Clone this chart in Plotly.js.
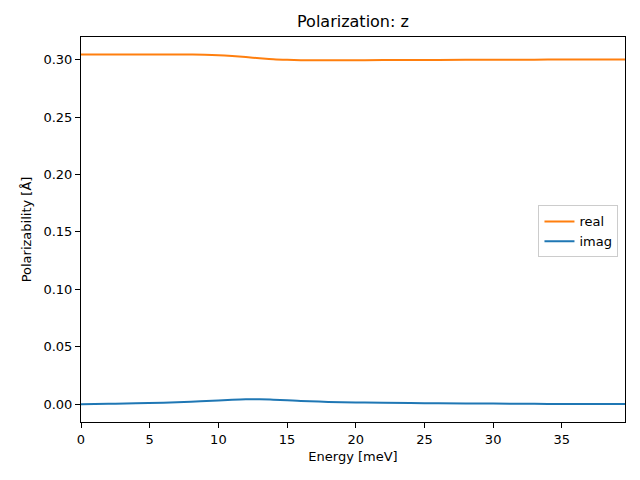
<!DOCTYPE html>
<html>
<head>
<meta charset="utf-8">
<script src="https://cdn.plot.ly/plotly-3.0.1.min.js"></script>
<style>html,body{margin:0;padding:0;background:#fff;}#chart{width:640px;height:480px;}</style>
</head>
<body>
<div id="chart"></div>
<script>
const energyReal = [0, 2, 4, 6, 7, 8, 9, 10, 11, 12, 13, 14, 15, 16, 17, 18, 20, 22, 25, 28, 30, 33, 36, 39.6];
const realValues = [0.3045, 0.3045, 0.3045, 0.3045, 0.3045, 0.3044, 0.3042, 0.3038, 0.3031, 0.3022, 0.3012, 0.3003, 0.2998, 0.2995, 0.2994, 0.2994, 0.2995, 0.2996, 0.2997, 0.2998, 0.2999, 0.3000, 0.3001, 0.3001];
const energyImag = [0, 2, 4, 6, 8, 10, 11, 12, 13, 14, 15, 16, 18, 20, 22, 25, 28, 30, 33, 36, 39.6];
const imagValues = [0.0000, 0.0004, 0.0008, 0.0013, 0.0021, 0.0033, 0.0039, 0.0043, 0.0043, 0.0039, 0.0034, 0.0028, 0.0020, 0.0015, 0.0012, 0.0009, 0.0007, 0.0005, 0.0003, 0.0002, 0.0001];

const font = "DejaVu Sans, sans-serif";
const traces = [
  {x: energyReal, y: realValues, name: "real", mode: "lines", line: {color: "#ff7f0e", width: 2, shape: "spline"}},
  {x: energyImag, y: imagValues, name: "imag", mode: "lines", line: {color: "#1f77b4", width: 2, shape: "spline"}}
];
const axisCommon = {
  showline: true, mirror: true, linecolor: "black", linewidth: 1,
  ticks: "outside", ticklen: 5, tickwidth: 1, tickcolor: "black",
  showgrid: false, zeroline: false,
  tickfont: {family: font, size: 13, color: "black"}
};
const layout = {
  width: 640, height: 480,
  margin: {l: 81, r: 15, t: 37, b: 58},
  paper_bgcolor: "white", plot_bgcolor: "white",
  font: {family: font, color: "black"},
  title: {text: "Polarization: z", font: {family: font, size: 16, color: "black"}, x: 0.5515, xanchor: "center", y: 0.955, yanchor: "middle"},
  xaxis: Object.assign({}, axisCommon, {range: [0, 39.6], dtick: 5, tick0: 0,
    title: {text: "Energy [meV]", font: {family: font, size: 13, color: "black"}, standoff: 6}}),
  yaxis: Object.assign({}, axisCommon, {range: [-0.0155, 0.3197], dtick: 0.05, tick0: 0, tickformat: ".2f",
    title: {text: "Polarizability [Å]", font: {family: font, size: 13, color: "black"}, standoff: 8}}),
  legend: {x: 0.988, xanchor: "right", y: 0.495, yanchor: "middle", bgcolor: "rgba(255,255,255,0.8)",
    bordercolor: "#cccccc", borderwidth: 1, font: {family: font, size: 13, color: "black"}},
  showlegend: true
};
Plotly.newPlot("chart", traces, layout, {displayModeBar: false, staticPlot: true});
</script>
</body>
</html>
